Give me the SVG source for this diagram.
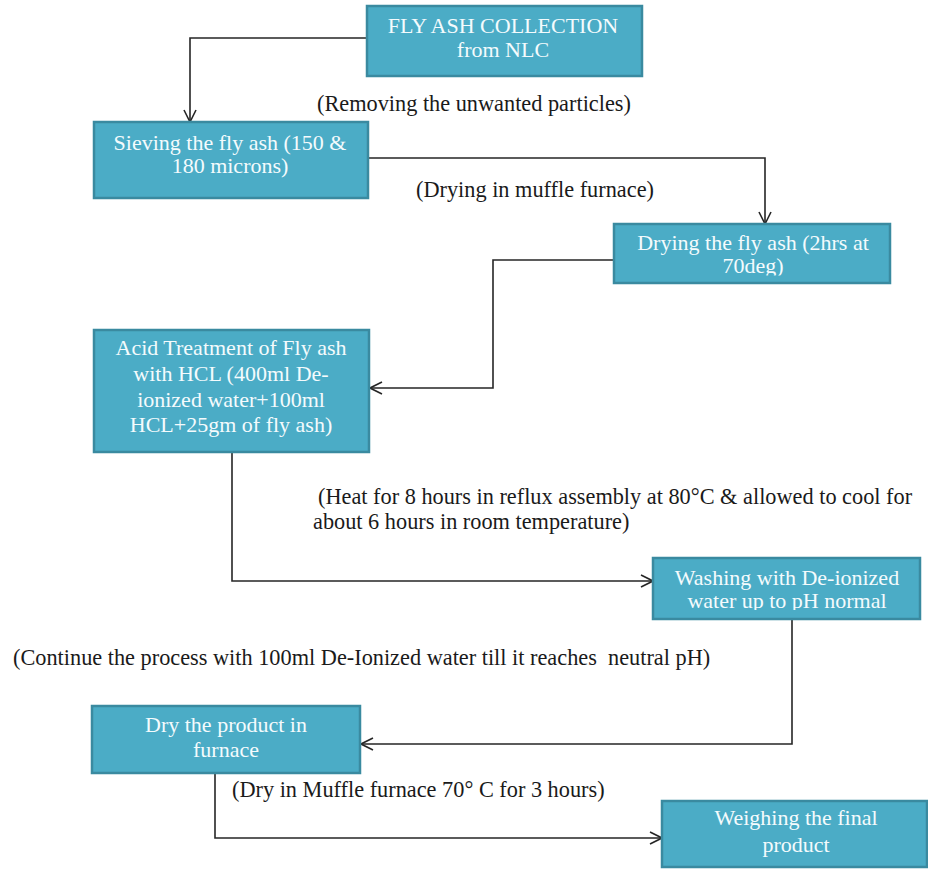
<svg xmlns="http://www.w3.org/2000/svg" width="928" height="869" viewBox="0 0 928 869">
<style>
.box{fill:#4bacc6;stroke:#3a8aa0;stroke-width:2.5}
.bt{font-family:"Liberation Serif","Times New Roman",serif;font-size:22px;fill:#f4fbfd;text-anchor:middle}
.lb{font-family:"Liberation Serif","Times New Roman",serif;font-size:22.3px;fill:#1a1a1a;white-space:pre}
.cn{fill:none;stroke:#262626;stroke-width:1.6}
</style>
<defs>
<marker id="arr" markerUnits="userSpaceOnUse" markerWidth="14" markerHeight="14" viewBox="0 0 14 14" refX="13" refY="7" orient="auto">
<path d="M1,1 L13,7 L1,13" fill="none" stroke="#262626" stroke-width="1.6"/>
</marker>
<clipPath id="clip3"><rect x="614" y="224" width="276" height="51.5"/></clipPath>
<clipPath id="clip5"><rect x="653" y="558" width="267" height="52"/></clipPath>
</defs>
<rect width="928" height="869" fill="#ffffff"/>
<g id="connectors">
<path class="cn" d="M367,38 H190 V122" marker-end="url(#arr)"/>
<path class="cn" d="M368,158 H765 V224" marker-end="url(#arr)"/>
<path class="cn" d="M614,260 H493 V388 H370" marker-end="url(#arr)"/>
<path class="cn" d="M232,452 V581 H653" marker-end="url(#arr)"/>
<path class="cn" d="M792,619 V744 H361" marker-end="url(#arr)"/>
<path class="cn" d="M215,773 V838 H662" marker-end="url(#arr)"/>
</g>
<g id="labels">
<text class="lb" x="317" y="111">(Removing the unwanted particles)</text>
<text class="lb" x="416" y="197">(Drying in muffle furnace)</text>
<text class="lb" x="318" y="504">(Heat for 8 hours in reflux assembly at 80°C &amp; allowed to cool for</text>
<text class="lb" x="313" y="529">about 6 hours in room temperature)</text>
<text class="lb" x="13" y="665">(Continue the process with 100ml De-Ionized water till it reaches  neutral pH)</text>
<text class="lb" x="232" y="797">(Dry in Muffle furnace 70° C for 3 hours)</text>
</g>
<g id="n1">
<rect class="box" x="367" y="6" width="275" height="70"/>
<text class="bt" x="503" y="33">FLY ASH COLLECTION</text>
<text class="bt" x="503" y="57">from NLC</text>
</g>
<g id="n2">
<rect class="box" x="94" y="122" width="274" height="76"/>
<text class="bt" x="230" y="150">Sieving the fly ash (150 &amp;</text>
<text class="bt" x="230" y="173">180 microns)</text>
</g>
<g id="n3">
<rect class="box" x="614" y="224" width="276" height="59"/>
<g clip-path="url(#clip3)">
<text class="bt" x="753" y="250">Drying the fly ash (2hrs at</text>
<text class="bt" x="753" y="273">70deg)</text>
</g>
</g>
<g id="n4">
<rect class="box" x="94" y="330" width="275" height="122"/>
<text class="bt" x="231" y="355">Acid Treatment of Fly ash</text>
<text class="bt" x="231" y="381">with HCL (400ml De-</text>
<text class="bt" x="231" y="407">ionized water+100ml</text>
<text class="bt" x="231" y="432">HCL+25gm of fly ash)</text>
</g>
<g id="n5">
<rect class="box" x="653" y="558" width="267" height="61"/>
<g clip-path="url(#clip5)">
<text class="bt" x="787" y="585">Washing with De-ionized</text>
<text class="bt" x="787" y="608">water up to pH normal</text>
</g>
</g>
<g id="n6">
<rect class="box" x="92" y="706" width="268" height="67"/>
<text class="bt" x="226" y="732">Dry the product in</text>
<text class="bt" x="226" y="757">furnace</text>
</g>
<g id="n7">
<rect class="box" x="662" y="801" width="265" height="66"/>
<text class="bt" x="796" y="825">Weighing the final</text>
<text class="bt" x="796" y="852">product</text>
</g>
</svg>
